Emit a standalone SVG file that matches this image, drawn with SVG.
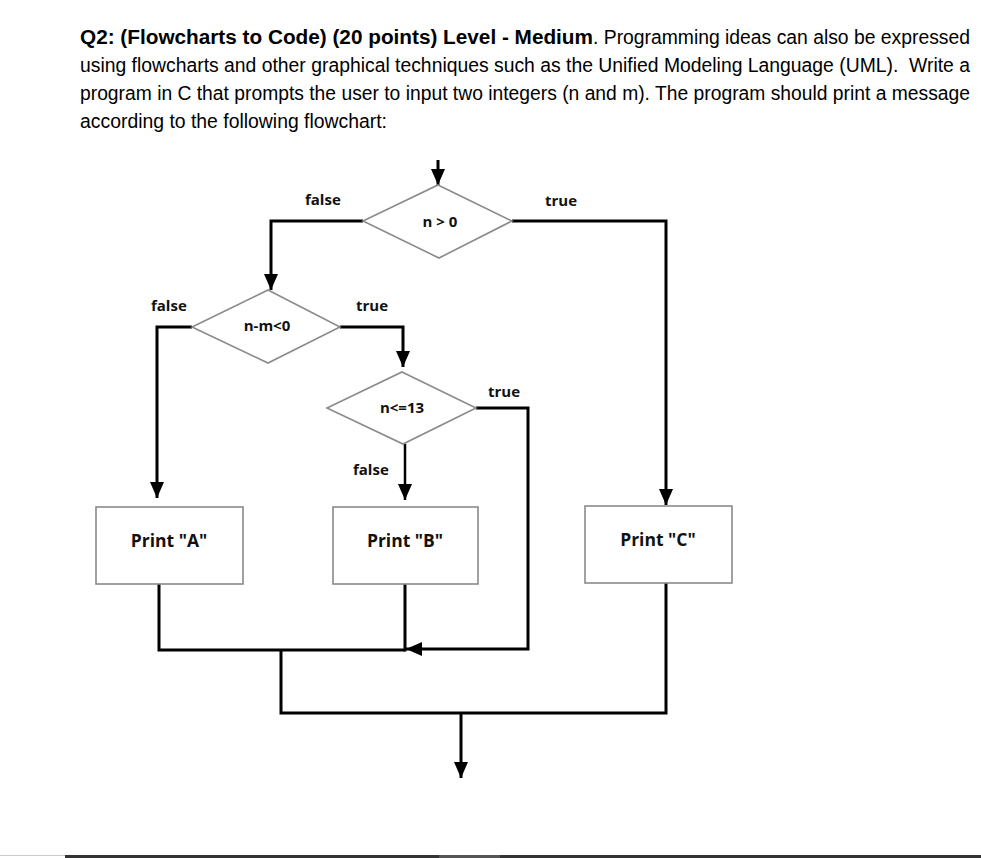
<svg xmlns="http://www.w3.org/2000/svg" width="981" height="858" viewBox="0 0 981 858">
<style>
.t{font-family:"Liberation Sans",Arial,sans-serif;font-size:19.5px;fill:#000}
.b{font-weight:bold}
.lbl{font-family:"Open Sans","DejaVu Sans",sans-serif;font-weight:700;font-size:15px;fill:#111}
.pr{font-family:"Open Sans","DejaVu Sans",sans-serif;font-weight:700;font-size:17.5px;fill:#111;text-anchor:middle}
.shape{fill:#fff;stroke:#8a8a8a;stroke-width:1.6}
.c{fill:none;stroke:#000;stroke-width:3}
</style>
<defs>
<marker id="ah" markerUnits="userSpaceOnUse" markerWidth="16" markerHeight="14" refX="16" refY="7" orient="auto" viewBox="0 0 16 14">
<path d="M0,0 L16,7 L0,14 Z" fill="#000"/>
</marker>
</defs>
<rect width="981" height="858" fill="#fff"/>
<g id="title">
<text class="t b" x="80" y="44" textLength="513" lengthAdjust="spacingAndGlyphs">Q2: (Flowcharts to Code) (20 points) Level - Medium</text>
<text class="t" x="593" y="44" textLength="377" lengthAdjust="spacingAndGlyphs">. Programming ideas can also be expressed</text>
<text class="t" x="80" y="72" textLength="890" lengthAdjust="spacingAndGlyphs" style="white-space:pre">using flowcharts and other graphical techniques such as the Unified Modeling Language (UML).  Write a</text>
<text class="t" x="80" y="100" textLength="890" lengthAdjust="spacingAndGlyphs">program in C that prompts the user to input two integers (n and m). The program should print a message</text>
<text class="t" x="80" y="128" textLength="307" lengthAdjust="spacingAndGlyphs">according to the following flowchart:</text>
</g>
<g id="connectors">
<line class="c" x1="438" y1="160" x2="438" y2="185" marker-end="url(#ah)"/>
<polyline class="c" points="363,221 271,221 271,290" marker-end="url(#ah)"/>
<polyline class="c" points="512,221 666,221 666,505" marker-end="url(#ah)"/>
<polyline class="c" points="192,327 157,327 157,498" marker-end="url(#ah)"/>
<polyline class="c" points="340,327 403,327 403,367" marker-end="url(#ah)"/>
<line class="c" x1="405" y1="444" x2="405" y2="500" marker-end="url(#ah)" style="stroke-width:2.5"/>
<polyline class="c" points="476,408 528,408 528,649 406,649" marker-end="url(#ah)"/>
<polyline class="c" points="159,584 159,650 405,650"/>
<line class="c" x1="405" y1="584" x2="405" y2="651.5"/>
<polyline class="c" points="281,650 281,713 666,713 666,583"/>
<line class="c" x1="461" y1="713" x2="461" y2="778" marker-end="url(#ah)"/>
</g>
<g id="d1">
<polygon class="shape" points="438,185 512,221 439,258 363,221"/>
<text class="lbl" x="440" y="227" text-anchor="middle">n &gt; 0</text>
</g>
<g id="d2">
<polygon class="shape" points="268,290 340,327 268,363 192,327"/>
<text class="lbl" x="267" y="331" text-anchor="middle">n-m&lt;0</text>
</g>
<g id="d3">
<polygon class="shape" points="402,372 476,408 403,444 327,408"/>
<text class="lbl" x="402" y="413" text-anchor="middle">n&lt;=13</text>
</g>
<g id="boxA">
<rect class="shape" x="96" y="507" width="147" height="77"/>
<text class="pr" x="169" y="547">Print "A"</text>
</g>
<g id="boxB">
<rect class="shape" x="333" y="507" width="145" height="77"/>
<text class="pr" x="405" y="547">Print "B"</text>
</g>
<g id="boxC">
<rect class="shape" x="585" y="506" width="147" height="77"/>
<text class="pr" x="658" y="546">Print "C"</text>
</g>
<g id="labels">
<text class="lbl" x="305" y="205">false</text>
<text class="lbl" x="545" y="206">true</text>
<text class="lbl" x="151" y="311">false</text>
<text class="lbl" x="356" y="311">true</text>
<text class="lbl" x="488" y="397">true</text>
<text class="lbl" x="353" y="475">false</text>
</g>
<g id="rule">
<rect x="0" y="855" width="65" height="1" fill="#ccc"/>
<rect x="65" y="855" width="916" height="3" fill="#333"/>
<rect x="439" y="855" width="61" height="3" fill="#555"/>
</g>
</svg>
